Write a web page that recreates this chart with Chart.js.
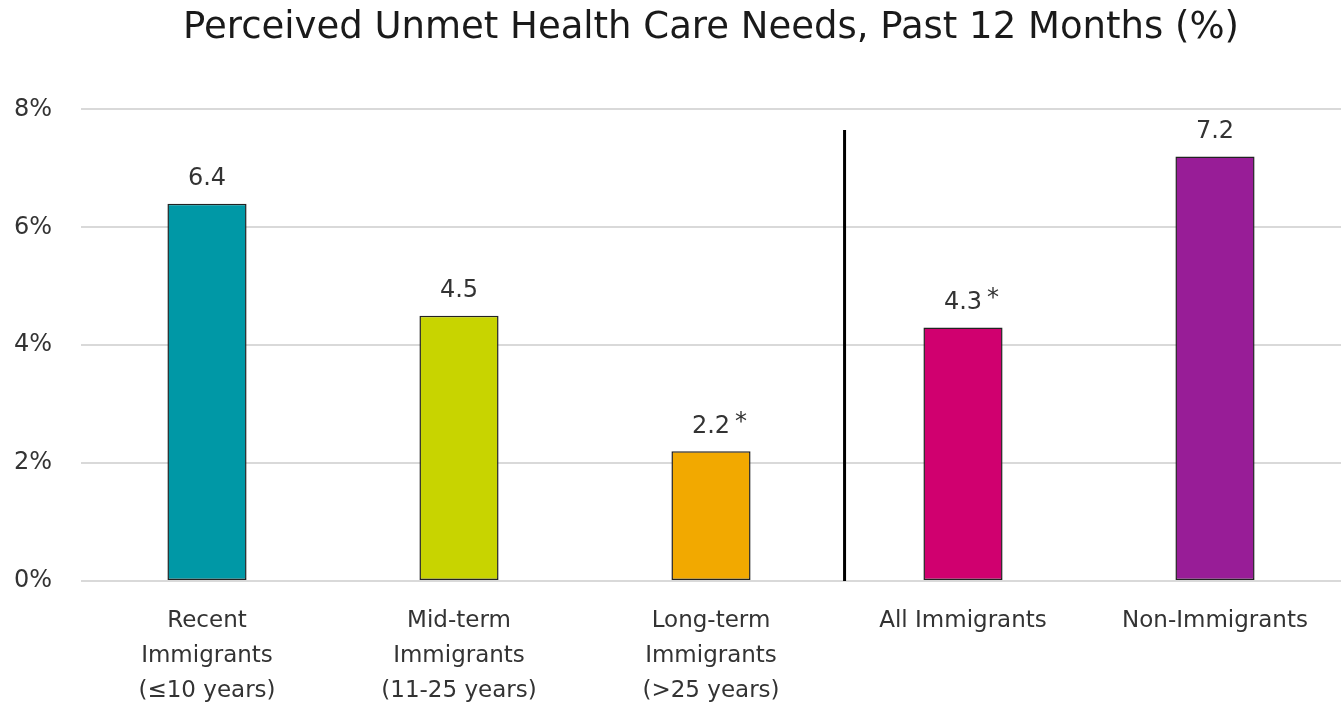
<!DOCTYPE html>
<html lang="en">
<head>
  <meta charset="UTF-8" />
  <title>Perceived Unmet Health Care Needs</title>
  <script src="https://cdn.jsdelivr.net/npm/chart.js"></script>
  <style>
    html, body { margin: 0; padding: 0; background: #fff; }
    .wrap { width: 1341px; height: 708px; position: relative; }
  </style>
</head>
<body>
  <div class="wrap">
    <canvas id="unmetChart"></canvas>
  </div>

  <script>
    // data
    const categories = [
      ["Recent", "Immigrants", "(\u226410 years)"],
      ["Mid-term", "Immigrants", "(11-25 years)"],
      ["Long-term", "Immigrants", "(>25 years)"],
      "All Immigrants",
      "Non-Immigrants"
    ];
    const values = [6.4, 4.5, 2.2, 4.3, 7.2];
    const significant = [false, false, true, true, false];
    const yTicks = [0, 2, 4, 6, 8];
    const barColors = ["#0098A6", "#C8D400", "#F2A900", "#D0006F", "#981D97"];

    const FONT = "'DejaVu Sans', sans-serif";
    const TEXT = "#333333";

    // value labels with the small raised asterisk
    const valueLabels = {
      id: "valueLabels",
      afterDatasetsDraw(chart) {
        const ctx = chart.ctx;
        const meta = chart.getDatasetMeta(0);
        ctx.save();
        meta.data.forEach((bar, i) => {
          const txt = values[i].toFixed(1);
          ctx.font = "24px " + FONT;
          ctx.fillStyle = TEXT;
          ctx.textAlign = "center";
          ctx.textBaseline = "middle";
          const y = bar.y - 25;
          ctx.fillText(txt, bar.x, y);
          if (significant[i]) {
            const w = ctx.measureText(txt).width;
            ctx.textAlign = "left";
            ctx.fillText("*", bar.x + w / 2 + 5, y - 4);
          }
        });
        ctx.restore();
      }
    };

    // vertical divider between the immigrant groups and the totals
    const divider = {
      id: "divider",
      afterDatasetsDraw(chart) {
        const ctx = chart.ctx;
        const x = chart.scales.x.getPixelForValue(2.53);
        const yTop = chart.scales.y.getPixelForValue(7.65);
        const yBot = chart.scales.y.getPixelForValue(0);
        ctx.save();
        ctx.strokeStyle = "#000";
        ctx.lineWidth = 3;
        ctx.beginPath();
        ctx.moveTo(x, yTop);
        ctx.lineTo(x, yBot);
        ctx.stroke();
        ctx.restore();
      }
    };

    const chartCtx = document.getElementById("unmetChart").getContext("2d");
    const chart = new Chart(chartCtx, {
      type: "bar",
      data: {
        labels: categories,
        datasets: [{
          label: "Unmet needs (%)",
          data: values,
          backgroundColor: barColors,
          borderColor: "#222",
          borderWidth: 1.5,
          borderSkipped: false,
          categoryPercentage: 1,
          barPercentage: 0.314
        }]
      },
      options: {
        responsive: true,
        maintainAspectRatio: false,
        animation: false,
        layout: { padding: 0 },
        plugins: {
          legend: { display: false },
          tooltip: { enabled: false },
          title: {
            display: true,
            fullSize: false,
            text: "Perceived Unmet Health Care Needs, Past 12 Months (%)",
            color: "#1a1a1a",
            font: { family: FONT, size: 37, weight: "normal" },
            padding: { top: 6, bottom: 59 }
          }
        },
        scales: {
          x: {
            grid: { display: false },
            border: { display: false },
            ticks: {
              color: TEXT,
              font: { family: FONT, size: 23, lineHeight: 1.52 },
              maxRotation: 0,
              autoSkip: false,
              padding: 15
            },
            afterFit(scale) { scale.height = 127; }
          },
          y: {
            min: 0,
            max: 8,
            afterBuildTicks(scale) {
              scale.ticks = yTicks.map(v => ({ value: v }));
            },
            grid: { color: "#d9d9d9", lineWidth: 2, drawTicks: false },
            border: { display: false },
            ticks: {
              color: TEXT,
              font: { family: FONT, size: 24 },
              padding: 29,
              callback: v => v + "%"
            },
            afterFit(scale) { scale.width = 81; }
          }
        }
      },
      plugins: [valueLabels, divider]
    });
  </script>
</body>
</html>
